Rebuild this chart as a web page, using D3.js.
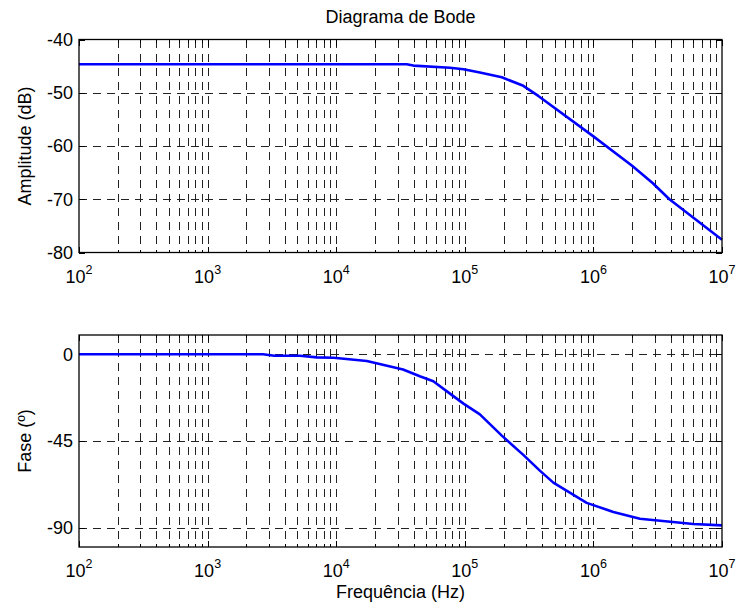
<!DOCTYPE html>
<html>
<head>
<meta charset="utf-8">
<script src="https://cdn.jsdelivr.net/npm/d3@7"></script>
<style>
  body { margin: 0; background: #fff; }
  text { font-family: "Liberation Sans", Arial, sans-serif; fill: #000; }
</style>
</head>
<body>
<div id="chart"></div>
<script>
// amplitude (dB) vs frequency (Hz)
const ampFreq = [100, 1000, 10000, 35300, 39800, 76700, 97700, 131000, 194000, 285000, 373000, 1000000, 2000000, 2900000, 3900000, 10000000]
const ampDb = [-44.65, -44.65, -44.65, -44.65, -44.9, -45.3, -45.6, -46.2, -47.1, -48.7, -50.6, -58.2, -63.7, -67.0, -70.0, -77.6]

// phase (degrees) vs frequency (Hz)
const phaseFreq = [100, 2700, 3300, 5220, 7080, 9550, 17300, 33100, 44700, 56900, 76700, 97700, 131000, 194000, 285000, 385000, 488000, 887000, 1430000, 2300000, 5980000, 10000000]
const phaseDeg = [0, 0, -0.8, -0.8, -1.6, -1.8, -3.5, -7.9, -11.4, -14, -20.4, -25.6, -31.2, -42.2, -52.2, -60.5, -66.6, -77.1, -81.8, -85.3, -88.1, -88.8]

const xTicks = [1e2, 1e3, 1e4, 1e5, 1e6, 1e7]
const ampTicks = [-80, -70, -60, -50, -40]
const phaseTicks = [-90, -45, 0]

const W = 736, H = 607
const svg = d3.select('#chart').append('svg').attr('width', W).attr('height', H)
svg.append('rect').attr('width', W).attr('height', H).attr('fill', '#fff')

const left = 79, right = 722

const x = d3.scaleLog().domain([1e2, 1e7]).range([left, right])

// minor grid positions 2..9 per decade
const minor = []
for (let e = 2; e < 7; e++) for (let k = 2; k <= 9; k++) minor.push(k * Math.pow(10, e))

const px = v => Math.round(v) + 0.5 // crisp 1px lines

const drawPanel = (top, bottom, yDomain, yTicks, fx, fy, ylabel) => {
  const y = d3.scaleLinear().domain(yDomain).range([bottom, top])
  const g = svg.append('g')

  // grid
  const grid = g.append('g').attr('stroke', '#222').attr('stroke-width', 1)
    .attr('stroke-dasharray', '8,6').attr('shape-rendering', 'crispEdges')
  xTicks.concat(minor).forEach(v => {
    if (v <= 1e2 || v >= 1e7) return
    grid.append('line').attr('x1', px(x(v))).attr('x2', px(x(v))).attr('y1', top).attr('y2', bottom)
  })
  yTicks.forEach(v => {
    if (y(v) <= top + 0.5 || y(v) >= bottom - 0.5) return
    grid.append('line').attr('x1', left).attr('x2', right).attr('y1', px(y(v))).attr('y2', px(y(v)))
  })

  // ticks inside
  const tk = g.append('g').attr('stroke', '#000').attr('stroke-width', 1).attr('shape-rendering', 'crispEdges')
  xTicks.forEach(v => {
    tk.append('line').attr('x1', px(x(v))).attr('x2', px(x(v))).attr('y1', bottom).attr('y2', bottom - 6)
    tk.append('line').attr('x1', px(x(v))).attr('x2', px(x(v))).attr('y1', top).attr('y2', top + 6)
  })
  minor.forEach(v => {
    tk.append('line').attr('x1', px(x(v))).attr('x2', px(x(v))).attr('y1', bottom).attr('y2', bottom - 3)
    tk.append('line').attr('x1', px(x(v))).attr('x2', px(x(v))).attr('y1', top).attr('y2', top + 3)
  })
  yTicks.forEach(v => {
    tk.append('line').attr('x1', left).attr('x2', left + 6).attr('y1', px(y(v))).attr('y2', px(y(v)))
    tk.append('line').attr('x1', right).attr('x2', right - 6).attr('y1', px(y(v))).attr('y2', px(y(v)))
  })

  // curve
  const line = d3.line().x(d => x(d[0])).y(d => y(d[1]))
  g.append('path')
    .datum(fx.map((f, i) => [f, fy[i]]))
    .attr('d', line)
    .attr('fill', 'none')
    .attr('stroke', '#0000ff')
    .attr('stroke-width', 2.6)
    .attr('stroke-linejoin', 'round')

  // box
  g.append('rect').attr('x', left).attr('y', top).attr('width', right - left).attr('height', bottom - top)
    .attr('fill', 'none').attr('stroke', '#000').attr('stroke-width', 1.3)

  // y labels
  yTicks.forEach(v => {
    g.append('text').attr('x', left - 6).attr('y', y(v)).attr('dy', '0.36em')
      .attr('text-anchor', 'end').style('font-size', '18px').text(v)
  })
  // x labels
  xTicks.forEach(v => {
    const t = g.append('text').attr('x', x(v)).attr('y', bottom + 30)
      .attr('text-anchor', 'middle').style('font-size', '18px')
    t.append('tspan').text('10')
    t.append('tspan').attr('dy', -9).style('font-size', '12.5px').text(Math.round(Math.log10(v)))
  })
  // axis title
  g.append('text').attr('transform', `translate(31,${(top + bottom) / 2}) rotate(-90)`)
    .attr('text-anchor', 'middle').style('font-size', '18px').text(ylabel)
  return y
}

drawPanel(39.5, 252.5, [-80, -40], ampTicks, ampFreq, ampDb, 'Amplitude (dB)')
drawPanel(335, 547, [-100, 10], phaseTicks, phaseFreq, phaseDeg, 'Fase (º)')

svg.append('text').attr('x', (left + right) / 2).attr('y', 23)
  .attr('text-anchor', 'middle').style('font-size', '18px').text('Diagrama de Bode')
svg.append('text').attr('x', (left + right) / 2).attr('y', 598)
  .attr('text-anchor', 'middle').style('font-size', '18px').text('Frequência (Hz)')
</script>
</body>
</html>
